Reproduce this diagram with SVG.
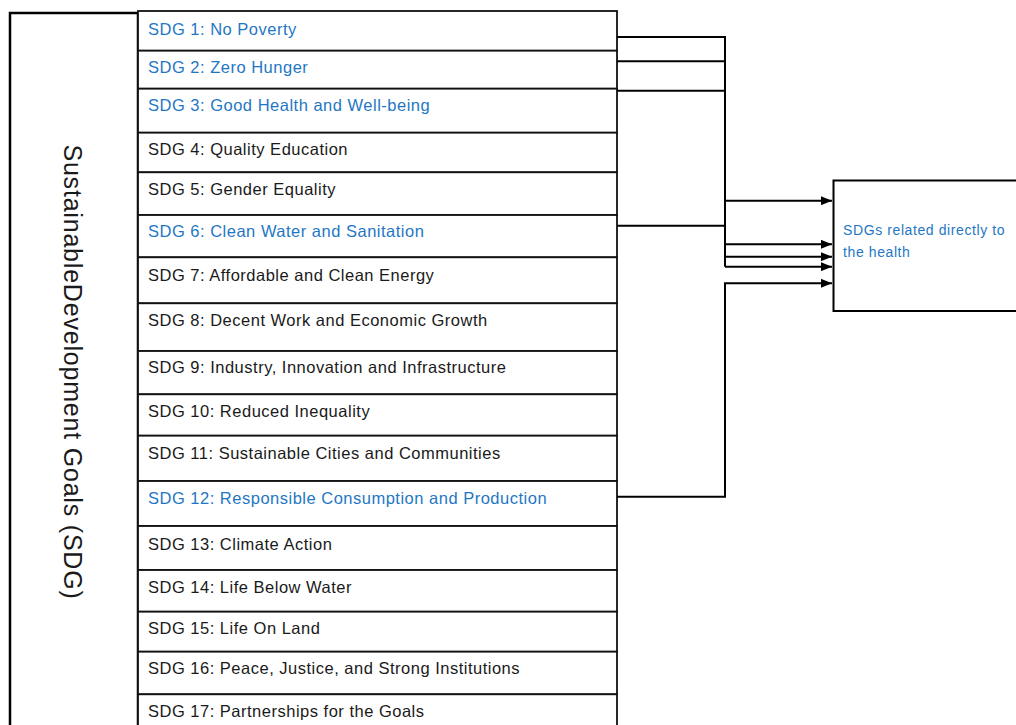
<svg xmlns="http://www.w3.org/2000/svg" width="1016" height="725" viewBox="0 0 1016 725">
<style>
.row{fill:#fff;stroke:#111;stroke-width:1.8}
.t{font-family:"Liberation Sans",Arial,sans-serif;font-size:16.5px;fill:#1a1a1a;letter-spacing:0.5px}
.b{fill:#1F77C4}
.c{fill:none;stroke:#000;stroke-width:2}
</style>
<defs>
<marker id="ah" markerWidth="11" markerHeight="9" refX="11" refY="4.5" orient="auto" markerUnits="userSpaceOnUse">
<path d="M0,0 L11,4.5 L0,9 Z" fill="#000"/>
</marker>
</defs>
<rect width="1016" height="725" fill="#fff"/>
<g id="sdg-group">
<rect x="10" y="13" width="128" height="730" fill="#fff" stroke="#000" stroke-width="2.5"/>
<text class="t" style="font-size:25px;letter-spacing:0.8px" transform="translate(64,372) rotate(90)" text-anchor="middle">SustainableDevelopment Goals (SDG)</text>
</g>
<g id="sdg1"><rect class="row" x="138" y="11" width="479" height="39.7"/><text class="t b" x="148" y="35">SDG 1: No Poverty</text></g>
<g id="sdg2"><rect class="row" x="138" y="50.7" width="479" height="38"/><text class="t b" x="148" y="73">SDG 2: Zero Hunger</text></g>
<g id="sdg3"><rect class="row" x="138" y="88.7" width="479" height="44"/><text class="t b" x="148" y="111">SDG 3: Good Health and Well-being</text></g>
<g id="sdg4"><rect class="row" x="138" y="132.7" width="479" height="39.6"/><text class="t" x="148" y="155">SDG 4: Quality Education</text></g>
<g id="sdg5"><rect class="row" x="138" y="172.3" width="479" height="42.7"/><text class="t" x="148" y="195">SDG 5: Gender Equality</text></g>
<g id="sdg6"><rect class="row" x="138" y="215" width="479" height="42.3"/><text class="t b" x="148" y="237">SDG 6: Clean Water and Sanitation</text></g>
<g id="sdg7"><rect class="row" x="138" y="257.3" width="479" height="46"/><text class="t" x="148" y="281">SDG 7: Affordable and Clean Energy</text></g>
<g id="sdg8"><rect class="row" x="138" y="303.3" width="479" height="47.7"/><text class="t" x="148" y="326">SDG 8: Decent Work and Economic Growth</text></g>
<g id="sdg9"><rect class="row" x="138" y="351" width="479" height="43.3"/><text class="t" x="148" y="373">SDG 9: Industry, Innovation and Infrastructure</text></g>
<g id="sdg10"><rect class="row" x="138" y="394.3" width="479" height="41.4"/><text class="t" x="148" y="417">SDG 10: Reduced Inequality</text></g>
<g id="sdg11"><rect class="row" x="138" y="435.7" width="479" height="45.3"/><text class="t" x="148" y="459">SDG 11: Sustainable Cities and Communities</text></g>
<g id="sdg12"><rect class="row" x="138" y="481" width="479" height="45"/><text class="t b" x="148" y="504">SDG 12: Responsible Consumption and Production</text></g>
<g id="sdg13"><rect class="row" x="138" y="526" width="479" height="44"/><text class="t" x="148" y="550">SDG 13: Climate Action</text></g>
<g id="sdg14"><rect class="row" x="138" y="570" width="479" height="41.7"/><text class="t" x="148" y="593">SDG 14: Life Below Water</text></g>
<g id="sdg15"><rect class="row" x="138" y="611.7" width="479" height="40"/><text class="t" x="148" y="634">SDG 15: Life On Land</text></g>
<g id="sdg16"><rect class="row" x="138" y="651.7" width="479" height="42.6"/><text class="t" x="148" y="674">SDG 16: Peace, Justice, and Strong Institutions</text></g>
<g id="sdg17"><rect class="row" x="138" y="694.3" width="479" height="50"/><text class="t" x="148" y="717">SDG 17: Partnerships for the Goals</text></g>
<g id="health">
<rect x="833.5" y="180.5" width="200" height="130.5" fill="#fff" stroke="#000" stroke-width="2"/>
<text class="t b" style="font-size:14px;letter-spacing:0.6px" x="843" y="235">SDGs related directly to</text>
<text class="t b" style="font-size:14px;letter-spacing:0.6px" x="843" y="257">the health</text>
</g>
<g id="connectors">
<path class="c" d="M617,37 H725 V266.7"/>
<path class="c" d="M617,61.3 H725"/>
<path class="c" d="M617,90.7 H725"/>
<path class="c" d="M617,225.7 H725"/>
<path class="c" d="M725,200.7 H832" marker-end="url(#ah)"/>
<path class="c" d="M725,244.3 H832" marker-end="url(#ah)"/>
<path class="c" d="M725,256.7 H832" marker-end="url(#ah)"/>
<path class="c" d="M725,266.7 H832" marker-end="url(#ah)"/>
<path class="c" d="M617,496.7 H725 V283.3 H832" marker-end="url(#ah)"/>
</g>
</svg>
